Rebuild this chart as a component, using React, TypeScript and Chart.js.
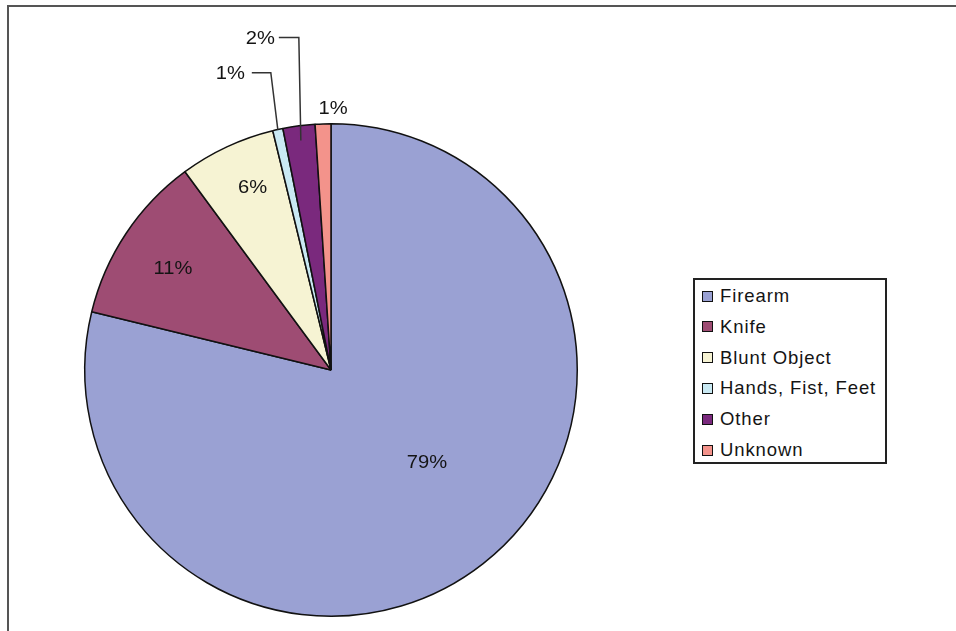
import React, { useEffect, useRef } from "react";
import { Chart, registerables } from "chart.js";

Chart.register(...registerables);

const categories = ["Firearm", "Knife", "Blunt Object", "Hands, Fist, Feet", "Other", "Unknown"];
const values = [78.8, 11.1, 6.3, 0.67, 2.1, 1.03];
const valueLabels = ["79%", "11%", "6%", "1%", "2%", "1%"];
const colors = ["#9aa1d3", "#9e4c73", "#f6f3d3", "#c9e9f3", "#7a297d", "#f3938b"];

const FONT = "'Liberation Sans', Arial, Helvetica, sans-serif";

// label placement relative to each slice: angle delta (deg) from slice middle, radius fraction
const labelPlacement = [
  { dAng: -7.7, rf: 0.543 },
  { dAng: -1.0, rf: 0.762 },
  { dAng: 1.7, rf: 0.805 },
  { leader: true, anchorRf: 1.0, elbowDx: -7, elbowRf: 1.207, lineLen: 19, textGap: 7 },
  { leader: true, anchorRf: 0.94, elbowDx: -2, elbowRf: 1.35, lineLen: 20, textGap: 4 },
  { dAng: 2.3, rf: 1.061 },
];

const drawScaledText = (ctx: CanvasRenderingContext2D, text: string, x: number, y: number, align: "center" | "right") => {
  ctx.save();
  ctx.translate(x, y);
  ctx.scale(1.12, 1);
  ctx.textAlign = align;
  ctx.textBaseline = "middle";
  ctx.fillText(text, 0, 0);
  ctx.restore();
};

const labelPlugin = {
  id: "sliceLabels",
  afterDatasetsDraw(chart: any) {
    const ctx: CanvasRenderingContext2D = chart.ctx;
    const meta = chart.getDatasetMeta(0);
    ctx.save();
    ctx.fillStyle = "#141414";
    ctx.font = `18px ${FONT}`;
    meta.data.forEach((arc: any, i: number) => {
      const p: any = labelPlacement[i];
      const { x, y, startAngle, endAngle, outerRadius } = arc.getProps(
        ["x", "y", "startAngle", "endAngle", "outerRadius"],
        true
      );
      const mid = (startAngle + endAngle) / 2;
      if (p.leader) {
        const ax = x + Math.cos(mid) * outerRadius * p.anchorRf;
        const ay = y + Math.sin(mid) * outerRadius * p.anchorRf;
        const ex = ax + p.elbowDx;
        const ey = y - outerRadius * p.elbowRf;
        const hx = ex - p.lineLen;
        ctx.save();
        ctx.strokeStyle = "#333";
        ctx.lineWidth = 1.5;
        ctx.beginPath();
        ctx.moveTo(ax, ay);
        ctx.lineTo(ex, ey);
        ctx.lineTo(hx, ey);
        ctx.stroke();
        ctx.restore();
        drawScaledText(ctx, valueLabels[i], hx - p.textGap, ey + 1.5, "right");
      } else {
        const a = mid + (p.dAng * Math.PI) / 180;
        const tx = x + Math.cos(a) * outerRadius * p.rf;
        const ty = y + Math.sin(a) * outerRadius * p.rf;
        drawScaledText(ctx, valueLabels[i], tx, ty, "center");
      }
    });
    ctx.restore();
  },
};

export default function App() {
  const canvasRef = useRef<HTMLCanvasElement | null>(null);

  useEffect(() => {
    if (!canvasRef.current) return;
    const chart = new Chart(canvasRef.current, {
      type: "pie",
      data: {
        labels: categories,
        datasets: [
          {
            data: values,
            backgroundColor: colors,
            borderColor: "#111",
            borderWidth: 1.5,
          },
        ],
      },
      options: {
        responsive: false,
        animation: false,
        layout: { padding: { left: 84, top: 123, right: 378, bottom: 14 } },
        plugins: {
          legend: { display: false },
          tooltip: { enabled: false },
        },
      },
      plugins: [labelPlugin],
    });
    return () => chart.destroy();
  }, []);

  return (
    <div
      style={{
        position: "absolute",
        left: 0,
        top: 0,
        width: 956,
        height: 631,
        background: "#fff",
        overflow: "hidden",
      }}
    >
      <canvas ref={canvasRef} width={956} height={631} style={{ position: "absolute", left: 0, top: 0 }} />
      {/* outer frame */}
      <div
        style={{
          position: "absolute",
          left: 7,
          top: 5,
          width: 960,
          height: 640,
          borderTop: "2px solid #555",
          borderLeft: "2px solid #555",
          boxSizing: "border-box",
        }}
      />
      {/* legend */}
      <div
        style={{
          position: "absolute",
          left: 693,
          top: 278,
          width: 194,
          height: 186,
          border: "2px solid #222",
          boxSizing: "border-box",
          background: "#fff",
        }}
      >
        {categories.map((c, i) => (
          <div
            key={c}
            style={{
              position: "absolute",
              left: 7,
              top: 16 + i * 30.8 - 10,
              height: 20,
              display: "flex",
              alignItems: "center",
              whiteSpace: "nowrap",
            }}
          >
            <span
              style={{
                display: "inline-block",
                width: 11,
                height: 11,
                background: colors[i],
                border: "1.5px solid #111",
                boxSizing: "border-box",
                flex: "none",
              }}
            />
            <span
              style={{
                display: "inline-block",
                marginLeft: 7,
                fontFamily: FONT,
                fontSize: 18.5,
                letterSpacing: 0.9,
                color: "#141414",
              }}
            >
              {c}
            </span>
          </div>
        ))}
      </div>
    </div>
  );
}
